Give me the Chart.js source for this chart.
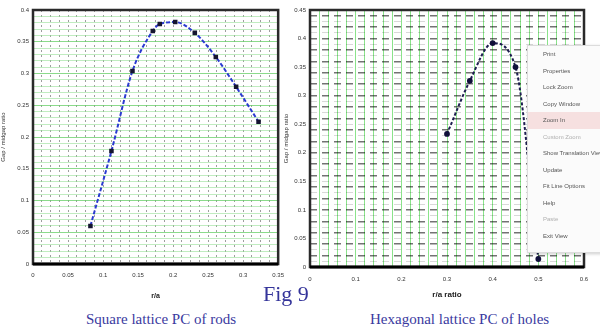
<!DOCTYPE html>
<html>
<head>
<meta charset="utf-8">
<script src="https://cdn.jsdelivr.net/npm/chart.js@4.4.0/dist/chart.umd.min.js"></script>
<style>
  body { margin: 0; background: #fff; width: 600px; height: 333px; overflow: hidden; position: relative; font-family: "Liberation Sans", sans-serif; }
  canvas { position: absolute; top: 0; }
  #leftChart { left: 0; }
  #rightChart { left: 283px; }
  .cap { position: absolute; font-family: "Liberation Serif", "DejaVu Serif", serif; color: #3a3aa0; white-space: nowrap; }
  #fig { left: 263px; top: 281px; font-size: 22px; color: #34349a; }
  #capL { left: 86px; top: 311px; font-size: 15px; }
  #capR { left: 370px; top: 311px; font-size: 15px; }
  #menu { position: absolute; left: 527px; top: 45px; width: 80px; height: 206px; background: #fbfbfb;
          border: 1px solid #dcdcdc; box-shadow: 1px 1px 3px rgba(0,0,0,0.2); font-size: 6px; color: #555; }
  #menu div { height: 16.5px; line-height: 16.5px; padding-left: 15px; white-space: nowrap; overflow: hidden; }
  #menu .hl { background: #f6e0e0; }
  #menu .off { color: #b0b0b0; }
</style>
</head>
<body>
<canvas id="leftChart" width="292" height="300"></canvas>
<canvas id="rightChart" width="317" height="300"></canvas>
<div class="cap" id="fig">Fig 9</div>
<div class="cap" id="capL">Square lattice PC of rods</div>
<div class="cap" id="capR">Hexagonal lattice PC of holes</div>
<div id="menu">
  <div>Print</div>
  <div>Properties</div>
  <div>Lock Zoom</div>
  <div>Copy Window</div>
  <div class="hl">Zoom In</div>
  <div class="off">Custom Zoom</div>
  <div>Show Translation View</div>
  <div>Update</div>
  <div>Fit Line Options</div>
  <div>Help</div>
  <div class="off">Paste</div>
  <div>Exit View</div>
</div>
<script>
// 左图：正方晶格介质柱
const leftR = [0.082, 0.112, 0.142, 0.171, 0.181, 0.203, 0.231, 0.261, 0.290, 0.322];
const leftGap = [0.060, 0.178, 0.304, 0.367, 0.378, 0.381, 0.364, 0.326, 0.279, 0.224];
const leftXTicks = [0, 0.05, 0.1, 0.15, 0.2, 0.25, 0.3, 0.35];
const leftYTicks = [0, 0.05, 0.1, 0.15, 0.2, 0.25, 0.3, 0.35, 0.4];

// 右图：六角晶格空气孔
const rightR = [0.30, 0.35, 0.40, 0.45, 0.50];
const rightGap = [0.233, 0.326, 0.392, 0.350, 0.014];
const rightXTicks = [0, 0.1, 0.2, 0.3, 0.4, 0.5, 0.6];
const rightYTicks = [0, 0.05, 0.1, 0.15, 0.2, 0.25, 0.3, 0.35, 0.4, 0.45];

const tickFont = { family: 'Liberation Sans', size: 6 };

function isMajor(v, list) {
    return list.some(t => Math.abs(t - v) < 1e-6);
}
function fmt(v) {
    return v === 0 ? '0' : String(Math.round(v * 100) / 100);
}

// 画框
const frame = {
    id: 'frame',
    beforeDatasetsDraw(chart) {
        const a = chart.chartArea, c = chart.ctx;
        c.save();
        c.strokeStyle = '#2a2a2a';
        c.lineWidth = 2.5;
        c.strokeRect(a.left, a.top, a.right - a.left, a.bottom - a.top);
        c.lineWidth = 3;
        c.strokeStyle = '#000';
        c.beginPath();
        c.moveTo(a.left, a.bottom);
        c.lineTo(a.right, a.bottom);
        c.stroke();
        c.restore();
    }
};

function fixWidth(w) { return s => { s.width = w; }; }
function fixHeight(h) { return s => { s.height = h; }; }

new Chart(document.getElementById('leftChart'), {
    type: 'scatter',
    data: {
        datasets: [{
            data: leftR.map((x, i) => ({ x: x, y: leftGap[i] })),
            showLine: true,
            borderColor: '#2a3ad0',
            borderWidth: 2,
            borderDash: [4, 2],
            cubicInterpolationMode: 'monotone',
            pointStyle: 'rect',
            pointRadius: 1.8,
            pointBackgroundColor: '#151530',
            pointBorderColor: '#151530'
        }]
    },
    options: {
        responsive: false,
        animation: false,
        devicePixelRatio: 1,
        layout: { padding: { top: 10, right: 12, left: 0, bottom: 0 } },
        plugins: { legend: { display: false }, tooltip: { enabled: false } },
        scales: {
            x: {
                type: 'linear', min: 0, max: 0.35,
                afterFit: fixHeight(36),
                border: { display: false, dash: [2, 3] },
                grid: {
                    drawTicks: false,
                    color: 'rgba(0,0,0,0.38)',
                    lineWidth: 1
                },
                ticks: {
                    stepSize: 0.0125, autoSkip: false, maxRotation: 0, padding: 8,
                    font: tickFont, color: '#333',
                    callback: v => isMajor(v, leftXTicks) ? fmt(v) : ''
                },
                title: { display: true, text: 'r/a', font: { family: 'Liberation Sans', size: 7, weight: 'bold' }, color: '#222', padding: 0 }
            },
            y: {
                type: 'linear', min: 0, max: 0.4,
                afterFit: fixWidth(33),
                border: { display: false },
                grid: {
                    drawTicks: false,
                    color: ctx => isMajor(ctx.tick.value, leftYTicks) ? 'rgba(100,205,100,0.75)' : 'rgba(140,220,140,0.55)',
                    lineWidth: 1
                },
                ticks: {
                    stepSize: 0.01, autoSkip: false, padding: 4,
                    font: tickFont, color: '#333',
                    callback: v => isMajor(v, leftYTicks) ? fmt(v) : ''
                },
                title: { display: true, text: 'Gap / midgap ratio', font: { family: 'Liberation Sans', size: 6 }, color: '#333', padding: 0 }
            }
        }
    },
    plugins: [frame]
});

new Chart(document.getElementById('rightChart'), {
    type: 'scatter',
    data: {
        datasets: [{
            data: rightR.map((x, i) => ({ x: x, y: rightGap[i] })),
            showLine: true,
            borderColor: '#1e1e50',
            borderWidth: 2,
            borderDash: [3, 2],
            cubicInterpolationMode: 'monotone',
            pointRadius: 1.9,
            pointBackgroundColor: '#10103a',
            pointBorderColor: '#10103a'
        }]
    },
    options: {
        responsive: false,
        animation: false,
        devicePixelRatio: 1,
        layout: { padding: { top: 10, right: 16, left: 0, bottom: 0 } },
        plugins: { legend: { display: false }, tooltip: { enabled: false } },
        scales: {
            x: {
                type: 'linear', min: 0, max: 0.6,
                afterFit: fixHeight(33),
                border: { display: false },
                grid: {
                    drawTicks: false,
                    color: 'rgba(110,220,110,0.8)',
                    lineWidth: 1
                },
                ticks: {
                    stepSize: 0.02, autoSkip: false, maxRotation: 0, padding: 9,
                    font: tickFont, color: '#333',
                    callback: v => isMajor(v, rightXTicks) ? fmt(v) : ''
                },
                title: { display: true, text: 'r/a ratio', font: { family: 'Liberation Sans', size: 8, weight: 'bold' }, color: '#222', padding: 0 }
            },
            y: {
                type: 'linear', min: 0, max: 0.45,
                afterFit: fixWidth(27),
                border: { display: false, dash: [7, 5] },
                grid: {
                    drawTicks: false,
                    color: ctx => (Math.round(ctx.tick.value * 100) % 2 === 0) ? 'rgba(0,0,0,0.55)' : 'rgba(0,0,0,0.15)',
                    lineWidth: ctx => (Math.round(ctx.tick.value * 100) % 2 === 0) ? 1.6 : 1
                },
                ticks: {
                    stepSize: 0.01, autoSkip: false, padding: 4,
                    font: tickFont, color: '#333',
                    callback: v => isMajor(v, rightYTicks) ? fmt(v) : ''
                },
                title: { display: true, text: 'Gap / midgap ratio', font: { family: 'Liberation Sans', size: 6 }, color: '#333', padding: 0 }
            }
        }
    },
    plugins: [frame]
});
</script>
</body>
</html>
